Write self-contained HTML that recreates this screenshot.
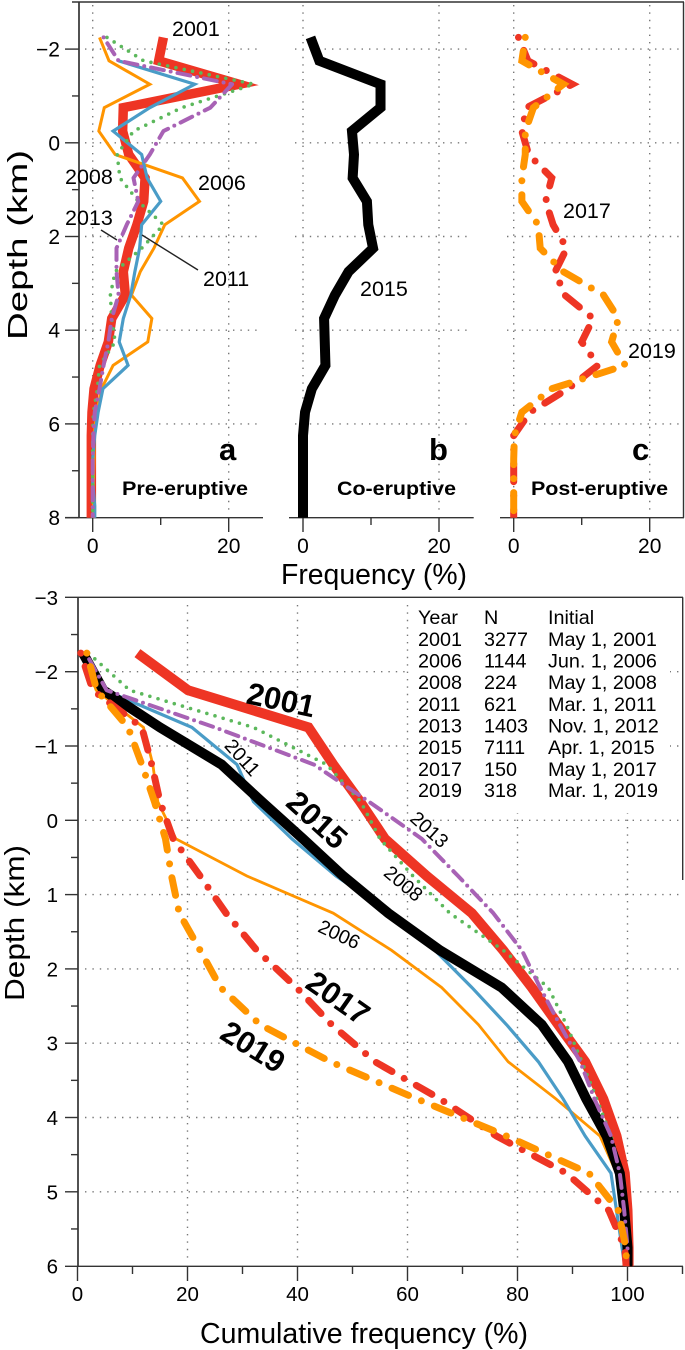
<!DOCTYPE html>
<html lang="en">
<head>
<meta charset="utf-8">
<title>Earthquake depth frequency distributions</title>
<style>
html,body{margin:0;padding:0;background:#fff;}
svg{display:block;}
text{font-family:"Liberation Sans",sans-serif;fill:#000;}
</style>
</head>
<body>
<svg id="fig" width="685" height="1350" viewBox="0 0 685 1350" xmlns="http://www.w3.org/2000/svg">
  <defs>
    <clipPath id="clipTop"><rect x="0" y="2" width="685" height="515.7"/></clipPath>
    <clipPath id="clipBottom"><rect x="0" y="597" width="685" height="669.3"/></clipPath>
  </defs>
  <rect x="0" y="0" width="685" height="1350" fill="#fff"/>
  <g id="gridLayer"></g>
  <rect x="410" y="604" width="260" height="209" fill="#fff"/>
  <g id="axisLayer"></g>
  <g id="seriesLayer"></g>
  <g id="labelLayer"></g>

  <text transform="translate(27,340) rotate(-90)" font-size="28" textLength="190" lengthAdjust="spacingAndGlyphs">Depth (km)</text>
  <text x="281" y="584" font-size="28.4" textLength="186" lengthAdjust="spacingAndGlyphs">Frequency (%)</text>
  <text transform="translate(24,1001) rotate(-90)" font-size="28" textLength="156" lengthAdjust="spacingAndGlyphs">Depth (km)</text>
  <text x="200" y="1343" font-size="29" textLength="328" lengthAdjust="spacingAndGlyphs">Cumulative frequency (%)</text>

  <text x="219" y="460" font-size="31" font-weight="bold">a</text>
  <text x="429" y="460" font-size="31" font-weight="bold">b</text>
  <text x="632" y="460" font-size="31" font-weight="bold">c</text>
  <text x="122" y="495" font-size="19.5" font-weight="bold" textLength="126" lengthAdjust="spacingAndGlyphs">Pre-eruptive</text>
  <text x="337" y="495" font-size="19.5" font-weight="bold" textLength="119" lengthAdjust="spacingAndGlyphs">Co-eruptive</text>
  <text x="531" y="495" font-size="19.5" font-weight="bold" textLength="137" lengthAdjust="spacingAndGlyphs">Post-eruptive</text>

  <line x1="101" y1="230" x2="117" y2="240" stroke="#222" stroke-width="1.4"/>
  <line x1="142" y1="235" x2="198" y2="270" stroke="#222" stroke-width="1.4"/>
  <text x="172" y="36" font-size="21.5">2001</text>
  <text x="198" y="190" font-size="21.5">2006</text>
  <text x="65" y="184" font-size="21.5">2008</text>
  <text x="65" y="225" font-size="21.5">2013</text>
  <text x="203" y="286" font-size="21.5">2011</text>
  <text x="360" y="296" font-size="21.5">2015</text>
  <text x="563" y="218" font-size="21.5">2017</text>
  <text x="628" y="358" font-size="21.5">2019</text>

  <g text-anchor="middle" dominant-baseline="central">
    <text transform="translate(281,700) rotate(12)" font-size="31" font-weight="bold">2001</text>
    <text transform="translate(317,820) rotate(42)" font-size="31" font-weight="bold">2015</text>
    <text transform="translate(338,998) rotate(35)" font-size="31" font-weight="bold">2017</text>
    <text transform="translate(253,1047) rotate(32)" font-size="31" font-weight="bold">2019</text>
    <text transform="translate(242,758) rotate(48)" font-size="19.5">2011</text>
    <text transform="translate(429,830) rotate(42)" font-size="19.5">2013</text>
    <text transform="translate(403,884) rotate(40)" font-size="19.5">2008</text>
    <text transform="translate(339,935) rotate(25)" font-size="19.5">2006</text>
  </g>

  <g font-size="19.8">
    <text x="418" y="624">Year</text><text x="484" y="624">N</text><text x="548" y="624">Initial</text>
    <text x="418" y="646">2001</text><text x="484" y="646">3277</text><text x="548" y="646">May 1, 2001</text>
    <text x="418" y="667.500">2006</text><text x="484" y="667.500">1144</text><text x="548" y="667.500">Jun. 1, 2006</text>
    <text x="418" y="689">2008</text><text x="484" y="689">224</text><text x="548" y="689">May 1, 2008</text>
    <text x="418" y="711">2011</text><text x="484" y="711">621</text><text x="548" y="711">Mar. 1, 2011</text>
    <text x="418" y="732.500">2013</text><text x="484" y="732.500">1403</text><text x="548" y="732.500">Nov. 1, 2012</text>
    <text x="418" y="754">2015</text><text x="484" y="754">7111</text><text x="548" y="754">Apr. 1, 2015</text>
    <text x="418" y="776">2017</text><text x="484" y="776">150</text><text x="548" y="776">May 1, 2017</text>
    <text x="418" y="797">2019</text><text x="484" y="797">318</text><text x="548" y="797">Mar. 1, 2019</text>
  </g>
</svg>
<script>
// Depth nodes (km)
const depthsTop = [-2.25,-1.75,-1.25,-0.75,-0.25,0.25,0.75,1.25,1.75,2.25,2.75,3.25,3.75,4.25,4.75,5.25,5.75,6.25,6.75,7.25,7.75,8.25];
const depthsBottom = [-2.25,-1.75,-1.25,-0.75,-0.25,0.25,0.75,1.25,1.75,2.25,2.75,3.25,3.75,4.25,4.75,5.25,5.75,6.25];

// Frequency (%) — panels a, b, c
const freq2001 = [10.4,9.7,21.5,4.5,4.4,5.3,7.7,7.5,6.5,5.3,4.5,4.8,2.8,2.3,1.1,0.2,-0.1,-0.2,-0.2,-0.2,-0.2,-0.2];
const freq2006 = [1.0,2.4,8.4,1.7,0.9,3.3,13.2,15.7,10.6,9,7,5.7,8.7,8.1,3,1.3,0.6,0.2,0.2,0.1,0.1,0.1];
const freq2008 = [2.1,7.5,23.7,13.1,6,3.6,4,6.7,10.4,7.2,3.3,2.6,2.8,3.3,1,0.7,0.1,0,0,0,0,0];
const freq2011 = [null,3.8,15,8.4,3,7.2,8,10,7.2,6.9,6.2,5.6,4.5,3.9,5.2,1.5,0.8,0.3,0,0,0.3,0.3];
const freq2013 = [1.6,3.8,20.5,17.3,10.4,8.4,6,6.7,5,3.5,3.5,3.8,2.8,2.3,1.6,1,0.3,0.1,0,0,0,0];
const freq2015 = [1.1,2.4,11.4,11.4,7.2,7.5,7.3,9.4,9.6,10.3,6.7,4.7,3.1,3.2,3.3,1.3,0.3,0,0,0,0,0];
const freq2017 = [0.7,2.1,8.6,1.9,1.2,2.2,5.6,4.7,5.8,7.8,6.1,7.5,11.7,10,12.4,8,2.4,0,0,0,0,0];
const freq2019 = [1.7,1.2,7.3,2.9,1.7,1.7,1.2,1.2,3.6,3.9,7.3,13.2,15.4,14.4,16.4,5.6,1.2,0.1,0,0,0,0];

// Cumulative frequency (%) — bottom panel
const cum2001 = [10.9,20.1,42,46.5,51.4,55.9,63.5,71.7,77.4,82.6,87.4,92.3,95.6,98,99.5,100,100.2,100.2];
const cum2006 = [1,3.4,12,13.7,14.6,17.9,30.8,46.5,57.1,66.2,72.9,78.3,87,95,98,99.3,99.9,100];
const cum2008 = [2,9.5,32,45.3,51.5,55,61,67.7,77.4,85.6,88.9,91.7,94.4,97,99,99.7,100,100];
const cum2011 = [1.5,5,20.8,29,32,39,47,57,65,71.7,78,83.8,88.3,92.3,97,98,99,100];
const cum2013 = [1.5,5.3,25,43,53,62.6,69.2,75.6,80.8,84.1,87.7,91.4,94,97,98.6,99.4,100,100];
const cum2015 = [1,4.7,15,26.2,33.5,41,48.3,56.5,65.9,77.1,84.4,89.2,92.5,96.2,98.6,99.4,100,100];
const cum2017 = [0.6,2.8,11.7,13.5,15,17.4,22.3,27,32.6,39.8,46.2,54.1,65.9,76.2,88.9,96.6,99.5,100];
const cum2019 = [1.7,3.5,9.2,11.7,14,16,17.1,18.5,22.3,26,33.2,46,61.7,78,93,98.3,99.7,100];

// Tick values
const topMajorDepths = [-2,0,2,4,6,8];
const topMinorDepths = [-1,1,3,5,7];
const topGridDepths = [-2,0,2,4,6];
const topFreqMajor = [0,20];
const topFreqMinor = [10];
const bottomMajorDepths = [-3,-2,-1,0,1,2,3,4,5,6];
const bottomMinorDepths = [-2.5,-1.5,-0.5,0.5,1.5,2.5,3.5,4.5,5.5];
const bottomGridDepths = [-2,-1,0,1,2,3,4,5];
const bottomMajorCum = [0,20,40,60,80,100];
const bottomMinorCum = [10,30,50,70,90,110];
const bottomGridCum = [20,40,60,80,100];

// Axis functions
function yTop(d){ return 142.8 + 46.85 * d; }
function yBottom(d){ return 820.3 + 74.3 * d; }
function xPanelA(v){ return 92.7 + 6.8 * v; }
function xPanelB(v){ return 303 + 6.8 * v; }
function xPanelC(v){ return 513.7 + 6.8 * v; }
function xCum(v){ return 77.5 + 5.5 * v; }

const SVGNS = 'http://www.w3.org/2000/svg';
const gridLayer = document.getElementById('gridLayer');
const axisLayer = document.getElementById('axisLayer');
const seriesLayer = document.getElementById('seriesLayer');
const labelLayer = document.getElementById('labelLayer');

function seg(parent, name, x1, y1, x2, y2, stroke, width, dash){
  const el = document.createElementNS(SVGNS, 'line');
  
  
  el.setAttribute('x1', x1); el.setAttribute('y1', y1);
  el.setAttribute('x2', x2); el.setAttribute('y2', y2);
  el.setAttribute('stroke', stroke);
  el.setAttribute('stroke-width', width);
  if (dash) el.setAttribute('stroke-dasharray', dash);
  parent.appendChild(el);
}
function grid(name, x1, y1, x2, y2){ seg(gridLayer, name, x1, y1, x2, y2, '#777', 1.4, '1.4 6'); }
function tick(name, x1, y1, x2, y2){ seg(axisLayer, name, x1, y1, x2, y2, '#333', 1.4); }
function label(name, x, y, str, anchor, size){
  const el = document.createElementNS(SVGNS, 'text');
  
  
  el.setAttribute('x', x); el.setAttribute('y', y);
  el.setAttribute('font-size', size);
  el.setAttribute('text-anchor', anchor);
  el.textContent = str;
  labelLayer.appendChild(el);
}
function depthText(d){ return d < 0 ? '\u2212' + Math.abs(d) : String(d); }

function drawSeries(name, xFn, yFn, depths, values, clip, style){
  let d = '', pen = false;
  for (let i = 0; i < values.length; i++){
    if (values[i] === null){ pen = false; continue; }
    d += (pen ? 'L' : 'M') + xFn(values[i]).toFixed(2) + ' ' + yFn(depths[i]).toFixed(2);
    pen = true;
  }
  const el = document.createElementNS(SVGNS, 'path');
  
  
  el.setAttribute('d', d);
  el.setAttribute('fill', 'none');
  el.setAttribute('clip-path', 'url(#' + clip + ')');
  el.setAttribute('stroke', style.color);
  el.setAttribute('stroke-width', style.width);
  el.setAttribute('stroke-linejoin', style.join || 'miter');
  el.setAttribute('stroke-miterlimit', '12');
  if (style.dash){
    el.setAttribute('stroke-linecap', 'round');
    el.setAttribute('stroke-dasharray', style.dash);
  }
  seriesLayer.appendChild(el);
}

const RED = '#ee3524', ORANGE = '#ff9500', GREEN = '#5cb85c', BLUE = '#4a9cc7', PURPLE = '#a862b5', BLACK = '#000';
const dashBig = '0 14 18 14', dashPurple = '0 7 13 7', dotGreen = '0 8.500';

// Top panels: grid
const topPanels = [
  {id:'a', xFn:xPanelA, left:65, right:263, gl:85, gr:258},
  {id:'b', xFn:xPanelB, left:289, right:473.7, gl:295, gr:468},
  {id:'c', xFn:xPanelC, left:500, right:684, gl:507, gr:680}
];
topPanels.forEach(function(p){
  topGridDepths.forEach(function(d){ grid('panel-' + p.id + '-grid-depth', p.gl, yTop(d), p.gr, yTop(d)); });
  topFreqMajor.forEach(function(v){ grid('panel-' + p.id + '-grid-frequency', p.xFn(v), 5, p.xFn(v), 512); });
  seg(axisLayer, 'panel-' + p.id + '-x-axis', p.left, 517.7, p.right, 517.7, '#333', 1.4);
  topFreqMajor.forEach(function(v){
    tick('panel-' + p.id + '-x-tick', p.xFn(v), 517.7, p.xFn(v), 532);
    label('panel-' + p.id + '-x-tick-label', p.xFn(v), 553, String(v), 'middle', '21');
  });
  topFreqMinor.forEach(function(v){ tick('panel-' + p.id + '-x-minor-tick', p.xFn(v), 517.7, p.xFn(v), 525); });
});
seg(axisLayer, 'top-frame-line', 72, 2, 684, 2, '#333', 1.4);
seg(axisLayer, 'top-right-frame-line', 683.5, 2, 683.5, 517.7, '#333', 1.4);
seg(axisLayer, 'top-y-axis', 79, 2, 79, 517.7, '#333', 1.7);
topMajorDepths.forEach(function(d){
  tick('top-y-tick', 65, yTop(d), 79, yTop(d));
  label('top-y-tick-label', 60, yTop(d) + 7.5, depthText(d), 'end', '21');
});
topMinorDepths.forEach(function(d){ tick('top-y-minor-tick', 72, yTop(d), 79, yTop(d)); });

// Bottom panel: grid and axes
bottomGridDepths.forEach(function(d){ grid('bottom-grid-depth', 85, yBottom(d), 680, yBottom(d)); });
bottomGridCum.forEach(function(v){ grid('bottom-grid-cumulative', xCum(v), 605, xCum(v), 1260); });
seg(axisLayer, 'bottom-y-axis', 78, 597.3, 78, 1266.3, '#333', 1.7);
seg(axisLayer, 'bottom-top-frame-line', 65, 597.3, 683, 597.3, '#333', 1.4);
seg(axisLayer, 'bottom-right-frame-line', 682.7, 597.3, 682.7, 880, '#333', 1.4);
seg(axisLayer, 'bottom-x-axis', 65, 1266.3, 683, 1266.3, '#333', 1.4);
bottomMajorDepths.forEach(function(d){
  if (d !== -3 && d !== 6) tick('bottom-y-tick', 65, yBottom(d), 78, yBottom(d));
  label('bottom-y-tick-label', 58, yBottom(d) + 7.5, depthText(d), 'end', '20.5');
});
bottomMinorDepths.forEach(function(d){ tick('bottom-y-minor-tick', 71, yBottom(d), 78, yBottom(d)); });
bottomMajorCum.forEach(function(v){
  tick('bottom-x-tick', xCum(v), 1266.3, xCum(v), 1281);
  label('bottom-x-tick-label', xCum(v), 1301, String(v), 'middle', '20.5');
});
bottomMinorCum.forEach(function(v){ tick('bottom-x-minor-tick', xCum(v), 1266.3, xCum(v), 1274); });

// Panel a
drawSeries('series-2001-frequency', xPanelA, yTop, depthsTop, freq2001, 'clipTop', {color:RED, width:9.5});
drawSeries('series-2006-frequency', xPanelA, yTop, depthsTop, freq2006, 'clipTop', {color:ORANGE, width:3});
drawSeries('series-2011-frequency', xPanelA, yTop, depthsTop, freq2011, 'clipTop', {color:BLUE, width:3.2});
drawSeries('series-2008-frequency', xPanelA, yTop, depthsTop, freq2008, 'clipTop', {color:GREEN, width:3.6, dash:dotGreen, join:'round'});
drawSeries('series-2013-frequency', xPanelA, yTop, depthsTop, freq2013, 'clipTop', {color:PURPLE, width:4, dash:dashPurple, join:'round'});
// Panel b
drawSeries('series-2015-frequency', xPanelB, yTop, depthsTop, freq2015, 'clipTop', {color:BLACK, width:10});
// Panel c
drawSeries('series-2017-frequency', xPanelC, yTop, depthsTop, freq2017, 'clipTop', {color:RED, width:7, dash:dashBig});
drawSeries('series-2019-frequency', xPanelC, yTop, depthsTop, freq2019, 'clipTop', {color:ORANGE, width:7, dash:dashBig});
// Bottom panel
drawSeries('series-2001-cumulative', xCum, yBottom, depthsBottom, cum2001, 'clipBottom', {color:RED, width:10});
drawSeries('series-2006-cumulative', xCum, yBottom, depthsBottom, cum2006, 'clipBottom', {color:ORANGE, width:2.8});
drawSeries('series-2011-cumulative', xCum, yBottom, depthsBottom, cum2011, 'clipBottom', {color:BLUE, width:3.2});
drawSeries('series-2008-cumulative', xCum, yBottom, depthsBottom, cum2008, 'clipBottom', {color:GREEN, width:3.6, dash:dotGreen, join:'round'});
drawSeries('series-2015-cumulative', xCum, yBottom, depthsBottom, cum2015, 'clipBottom', {color:BLACK, width:10});
drawSeries('series-2013-cumulative', xCum, yBottom, depthsBottom, cum2013, 'clipBottom', {color:PURPLE, width:4, dash:dashPurple, join:'round'});
drawSeries('series-2017-cumulative', xCum, yBottom, depthsBottom, cum2017, 'clipBottom', {color:RED, width:7, dash:dashBig});
drawSeries('series-2019-cumulative', xCum, yBottom, depthsBottom, cum2019, 'clipBottom', {color:ORANGE, width:7, dash:dashBig});
</script>
</body>
</html>
